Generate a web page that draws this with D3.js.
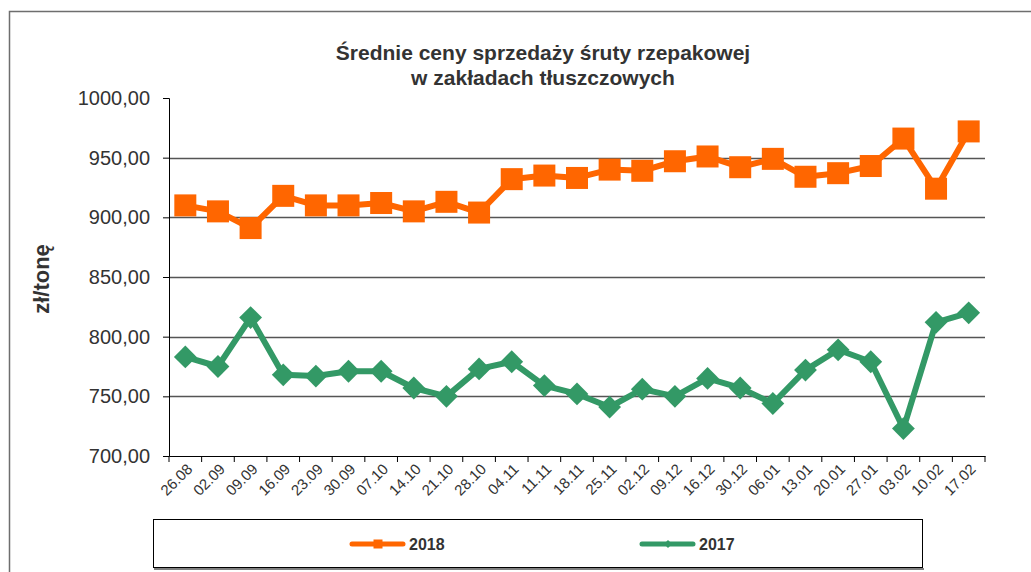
<!DOCTYPE html>
<html>
<head>
<meta charset="utf-8">
<script src="https://cdn.jsdelivr.net/npm/d3@7"></script>
<style>
  body { margin: 0; background: #fff; }
  svg text { font-family: "Liberation Sans", Arial, sans-serif; fill: #333; }
</style>
</head>
<body>
<div class="chart"></div>
<script>
const width = 1031;
const height = 572;

const weeks = ["26.08", "02.09", "09.09", "16.09", "23.09", "30.09", "07.10", "14.10", "21.10",
  "28.10", "04.11", "11.11", "18.11", "25.11", "02.12", "09.12", "16.12", "30.12", "06.01",
  "13.01", "20.01", "27.01", "03.02", "10.02", "17.02"];
const prices2018 = [910, 905, 891, 918, 910, 910, 912, 905, 913, 904, 932, 935, 933,
  940, 939, 947, 951, 942, 949, 934, 937, 943, 966, 924, 972];
const prices2017 = [783, 775, 816, 768, 767, 771, 771, 757, 750, 773, 779, 759, 752,
  741, 756, 750, 765, 757, 744, 772, 789, 779, 723, 812, 820];
const yTicks = [700, 750, 800, 850, 900, 950, 1000];
const gridValues = [750, 800, 850, 900, 950];

const orange = "#ff6600";
const green = "#339966";

const plot = { left: 169, right: 985, top: 98, bottom: 456 };

const pl = d3.formatLocale({ decimal: ",", thousands: "", grouping: [3], currency: ["", ""] });
const fmt = pl.format(".2f");

const svg = d3.select(".chart")
  .append("svg")
  .attr("width", width)
  .attr("height", height);

// outer frame
svg.append("rect")
  .attr("x", 9.5).attr("y", 11.5)
  .attr("width", 1040).attr("height", 620)
  .attr("fill", "#fff")
  .attr("stroke", "#6e6e6e")
  .attr("stroke-width", 1.5);

const x = d3.scaleBand()
  .domain(weeks)
  .range([plot.left, plot.right]);

const y = d3.scaleLinear()
  .domain([700, 1000])
  .range([plot.bottom, plot.top]);

// title
const title = svg.append("text")
  .attr("text-anchor", "middle")
  .style("font-size", "21px")
  .style("font-weight", "bold");
title.append("tspan").attr("x", 543).attr("y", 60).text("Średnie ceny sprzedaży śruty rzepakowej");
title.append("tspan").attr("x", 543).attr("y", 85).text("w zakładach tłuszczowych");

// gridlines
svg.append("g")
  .selectAll("line")
  .data(gridValues)
  .enter()
  .append("line")
  .attr("x1", plot.left)
  .attr("x2", plot.right)
  .attr("y1", d => Math.round(y(d)) + 0.5)
  .attr("y2", d => Math.round(y(d)) + 0.5)
  .attr("stroke", "#555")
  .attr("stroke-width", 1.3);

// y axis
const yAxis = svg.append("g")
  .attr("transform", `translate(${plot.left},0)`)
  .call(d3.axisLeft(y).tickValues(yTicks).tickFormat(fmt).tickSize(6).tickPadding(13));
yAxis.select(".domain").attr("stroke", "#000");
yAxis.selectAll(".tick line").attr("stroke", "#000");
yAxis.selectAll(".tick text")
  .style("font-size", "20px")
  .attr("fill", "#333");

// x axis
const xAxis = svg.append("g")
  .attr("transform", `translate(0,${plot.bottom})`)
  .call(d3.axisBottom(x).tickSize(0).tickPadding(0));
xAxis.select(".domain").attr("stroke", "#000");
xAxis.selectAll(".tick text")
  .style("font-size", "15px")
  .attr("fill", "#333")
  .attr("text-anchor", "end")
  .attr("dy", 0)
  .attr("y", 0)
  .attr("transform", "translate(8,14) rotate(-45)");

const bounds = weeks.map(d => x(d)).concat([plot.right]);
xAxis.append("g")
  .selectAll("line")
  .data(bounds)
  .enter()
  .append("line")
  .attr("x1", d => d).attr("x2", d => d)
  .attr("y1", 0).attr("y2", 6)
  .attr("stroke", "#000");

// y axis label
svg.append("text")
  .attr("transform", "translate(49,279) rotate(-90)")
  .attr("text-anchor", "middle")
  .style("font-size", "22px")
  .style("font-weight", "bold")
  .text("zł/tonę");

const cx = d => x(d) + x.bandwidth() / 2;

const line = vals => d3.line()
  .x((v, i) => cx(weeks[i]))
  .y(v => y(v))(vals);

// 2017 series
svg.append("path")
  .attr("d", line(prices2017))
  .attr("fill", "none")
  .attr("stroke", green)
  .attr("stroke-width", 6)
  .attr("stroke-linejoin", "round");

svg.append("g")
  .selectAll("path")
  .data(prices2017)
  .enter()
  .append("path")
  .attr("d", d3.symbol(d3.symbolSquare, 260)())
  .attr("transform", (v, i) => `translate(${cx(weeks[i])},${y(v)}) rotate(45)`)
  .attr("fill", green);

// 2018 series
svg.append("path")
  .attr("d", line(prices2018))
  .attr("fill", "none")
  .attr("stroke", orange)
  .attr("stroke-width", 6)
  .attr("stroke-linejoin", "round");

svg.append("g")
  .selectAll("rect")
  .data(prices2018)
  .enter()
  .append("rect")
  .attr("x", (v, i) => cx(weeks[i]) - 11)
  .attr("y", v => y(v) - 11)
  .attr("width", 22)
  .attr("height", 22)
  .attr("fill", orange);

// legend
svg.append("line")
  .attr("x1", 154).attr("x2", 924)
  .attr("y1", 569).attr("y2", 569)
  .attr("stroke", "#808080").attr("stroke-width", 2);
svg.append("rect")
  .attr("x", 153.5).attr("y", 519.5)
  .attr("width", 769).attr("height", 48)
  .attr("fill", "#fff")
  .attr("stroke", "#000");

const legendItems = [
  { name: "2018", color: orange, x: 350, marker: "square" },
  { name: "2017", color: green, x: 640, marker: "diamond" }
];

const legend = svg.selectAll(".legend")
  .data(legendItems)
  .enter()
  .append("g")
  .attr("class", "legend")
  .attr("transform", d => `translate(${d.x},544)`);

legend.append("line")
  .attr("x1", 2).attr("x2", 53)
  .attr("y1", 0).attr("y2", 0)
  .attr("stroke", d => d.color)
  .attr("stroke-width", 5)
  .attr("stroke-linecap", "round");

legend.append("path")
  .attr("d", d => d.marker === "square"
    ? d3.symbol(d3.symbolSquare, 81)()
    : d3.symbol(d3.symbolSquare, 32)())
  .attr("transform", d => d.marker === "square" ? "translate(28,0)" : "translate(28,0) rotate(45)")
  .attr("fill", d => d.color);

legend.append("text")
  .attr("x", 59)
  .attr("y", 6)
  .style("font-size", "16px")
  .style("font-weight", "bold")
  .text(d => d.name);
</script>
</body>
</html>
